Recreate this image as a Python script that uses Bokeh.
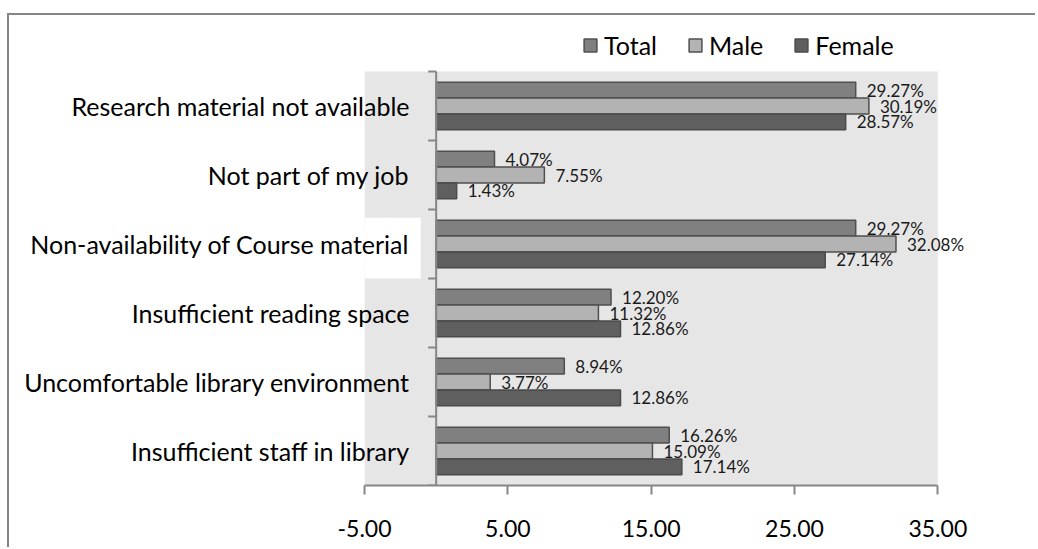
from bokeh.plotting import figure
from bokeh.models import (ColumnDataSource, Range1d, FixedTicker, NumeralTickFormatter,
                          LabelSet, Legend, LegendItem, BoxAnnotation)
from bokeh.transform import dodge
from bokeh.embed import file_html
from bokeh.resources import INLINE
from bokeh.core.properties import value

# ---------------- data ----------------
categories = [
    "Research material not available",
    "Not part of my job",
    "Non-availability of Course material",
    "Insufficient reading space",
    "Uncomfortable library environment",
    "Insufficient staff in library",
]
total = [29.27, 4.07, 29.27, 12.20, 8.94, 16.26]
male = [30.19, 7.55, 32.08, 11.32, 3.77, 15.09]
female = [28.57, 1.43, 27.14, 12.86, 12.86, 17.14]
series_names = ["Total", "Male", "Female"]
x_ticks = [-5, 5, 15, 25, 35]

# ---------------- style ----------------
FONT = "Lato"
AXIS_GRAY = "#868686"
PLOT_GRAY = "#e6e6e6"
fills = {"Total": "#808080", "Male": "#b3b3b3", "Female": "#5f5f5f"}
lines = {"Total": "#4f4f4f", "Male": "#4f4f4f", "Female": "#4a4a4a"}
offsets = {"Total": 0.23, "Male": 0.0, "Female": -0.23}
BAR_H = 0.23

W, H = 1028, 534
ML, MR, MT, MB = 355, 28, 15, 64
XMIN, XMAX = -5, 35          # axis extent (grey plot area)
XVIEW_END = 40               # extra room on the right for data labels
N = len(categories)
YVIEW_END = N * (H - MT - MB) / 414.0   # extra room on top for the legend

# numeric row positions (top row = first category)
ypos = [N - 1 - i + 0.5 for i in range(N)]

data = dict(cat=categories, ypos=ypos, Total=total, Male=male, Female=female)
for name, vals in zip(series_names, [total, male, female]):
    data[name + "_lbl"] = ["%.2f%%" % v for v in vals]
src = ColumnDataSource(data)

p = figure(width=W, height=H,
           y_range=Range1d(0, YVIEW_END),
           x_range=Range1d(XMIN, XVIEW_END),
           output_backend="svg", toolbar_location=None,
           min_border_left=ML, min_border_right=MR, min_border_top=MT, min_border_bottom=MB)
p.margin = (15, 0, 0, 9)
p.styles = {"box-shadow": "-2px -2px 0 0 %s" % AXIS_GRAY}

p.background_fill_color = "white"
p.border_fill_color = "white"
p.outline_line_color = None
p.xgrid.visible = False
p.ygrid.visible = False

# grey plot area
p.add_layout(BoxAnnotation(right=XMAX, top=N, fill_color=PLOT_GRAY, fill_alpha=1.0,
                           line_color=None, level="underlay"))
# white box behind one category label (as in the original)
p.add_layout(BoxAnnotation(right=-1.08, bottom=3.0, top=3.88, fill_color="white", fill_alpha=1.0,
                           line_color=None, level="underlay"))

renderers = {}
for name in series_names:
    r = p.hbar(y=dodge("ypos", offsets[name]), left=0, right=name, height=BAR_H,
               source=src, fill_color=fills[name], line_color=lines[name], line_width=1.5)
    renderers[name] = r
    p.add_layout(LabelSet(x=name, y=dodge("ypos", offsets[name]), text=name + "_lbl",
                          source=src, x_offset=11, text_baseline="middle", text_align="left",
                          text_font=value(FONT), text_font_size="17px", text_color="#1a1a1a"))

# y axis line at zero with category separators
frame_w = W - ML - MR
tick_len = 8 * (XVIEW_END - XMIN) / frame_w
bounds = list(range(N + 1))
p.segment(x0=[0], x1=[0], y0=[0], y1=[N], line_color=AXIS_GRAY, line_width=2)
p.segment(x0=[-tick_len] * len(bounds), x1=[0] * len(bounds), y0=bounds, y1=bounds,
          line_color=AXIS_GRAY, line_width=2)

# y axis: only category labels
yax = p.yaxis[0]
yax.ticker = FixedTicker(ticks=ypos)
yax.major_label_overrides = {y: c for y, c in zip(ypos, categories)}
yax.axis_line_color = None
yax.major_tick_line_color = None
yax.minor_tick_line_color = None
yax.major_tick_out = 0
yax.major_tick_in = 0
yax.major_label_standoff = -45
yax.major_label_text_font = FONT
yax.major_label_text_font_size = "25px"
yax.major_label_text_color = "#000000"

# x axis
xax = p.xaxis[0]
xax.bounds = (XMIN, XMAX)
xax.ticker = FixedTicker(ticks=x_ticks)
xax.formatter = NumeralTickFormatter(format="0.00")
xax.axis_line_color = AXIS_GRAY
xax.axis_line_width = 2
xax.major_tick_line_color = AXIS_GRAY
xax.major_tick_line_width = 2
xax.major_tick_out = 9
xax.major_tick_in = 0
xax.minor_tick_line_color = None
xax.major_label_standoff = 25
xax.major_label_text_font = FONT
xax.major_label_text_font_size = "23px"
xax.major_label_text_color = "#000000"

legend = Legend(items=[LegendItem(label=n, renderers=[renderers[n]]) for n in series_names],
                orientation="horizontal", location=(218, 425),
                background_fill_alpha=0, border_line_color=None,
                padding=0, margin=0, spacing=30, label_standoff=6,
                glyph_width=16, glyph_height=16,
                label_text_font=FONT, label_text_font_size="25px", label_text_color="#000000")
p.add_layout(legend, "center")

open("out.html", "w").write(file_html(p, INLINE))
